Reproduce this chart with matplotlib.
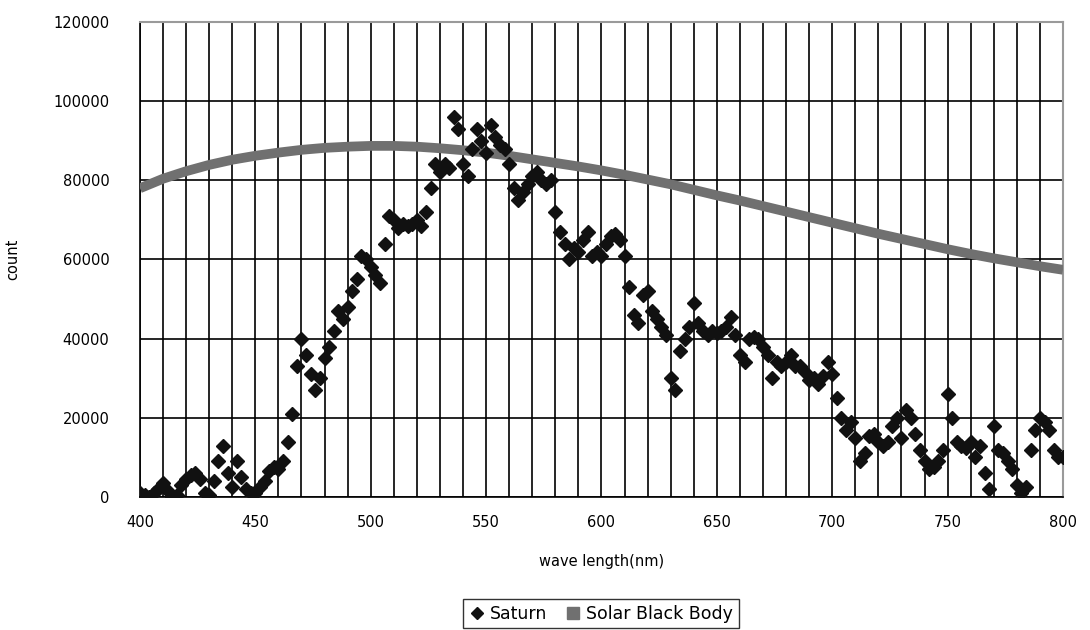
import numpy as np
import matplotlib
matplotlib.use('Agg')
import matplotlib.pyplot as plt
from matplotlib.lines import Line2D

# Saturn spectrum, one value every 2 nm from 400 to 800
saturn_nm = np.arange(400, 801, 2)
saturn_count = [
    1000, 500, 0, 1000, 2000, 3500, 1500, 0, 500, 3000,
    4500, 5500, 6000, 4500, 1000, 500, 4000, 9000, 13000, 6000,
    2500, 9000, 5000, 2000, 1000, 1000, 2500, 4000, 6500, 7500,
    7000, 9000, 14000, 21000, 33000, 40000, 36000, 31000, 27000, 30000,
    35000, 38000, 42000, 47000, 45000, 48000, 52000, 55000, 61000, 60000,
    58000, 56000, 54000, 64000, 71000, 70000, 68000, 69000, 68500, 69000,
    70000, 68500, 72000, 78000, 84000, 82000, 84000, 83000, 96000, 93000,
    84000, 81000, 88000, 93000, 90000, 87000, 94000, 91000, 89000, 88000,
    84000, 78000, 75000, 77000, 79000, 81000, 82000, 80000, 79000, 80000,
    72000, 67000, 64000, 60000, 63000, 62000, 65000, 67000, 61000, 62000,
    61000, 64000, 66000, 66500, 65000, 61000, 53000, 46000, 44000, 51000,
    52000, 47000, 45000, 43000, 41000, 30000, 27000, 37000, 40000, 43000,
    49000, 44000, 42000, 41000, 42000, 41500, 42000, 43000, 45500, 41000,
    36000, 34000, 40000, 40500, 40000, 38000, 36000, 30000, 34000, 33000,
    34000, 36000, 33000, 33000, 31500, 29500, 30000, 28500, 30500, 34000,
    31000, 25000, 20000, 17000, 19000, 15000, 9000, 11000, 15500, 16000,
    14000, 13000, 14000, 18000, 20000, 15000, 22000, 20000, 16000, 12000,
    9000, 7000, 7500, 9000, 12000, 26000, 20000, 14000, 13000, 12500,
    14000, 10000, 13000, 6000, 2000, 18000, 12000, 11000, 9000, 7000,
    3000, 1000, 2500, 12000, 17000, 20000, 19000, 17000, 12000, 10000,
    10000,
]

# solar black body curve, every 10 nm
solar_nm = np.arange(400, 801, 10)
solar_count = [
    78000, 80400, 82300, 83900, 85200, 86200, 87000, 87700, 88200, 88500,
    88700, 88700, 88500, 88100, 87600, 87000, 86200, 85300, 84400, 83500,
    82500, 81400, 80200, 79000, 77600, 76200, 74900, 73500, 72100, 70700,
    69300, 67900, 66500, 65200, 63900, 62600, 61400, 60300, 59300, 58300,
    57400,
]

x_ticks = [400, 450, 500, 550, 600, 650, 700, 750, 800]
y_ticks = [0, 20000, 40000, 60000, 80000, 100000, 120000]

plt.rcParams['font.family'] = ['DejaVu Sans']
fig = plt.figure(figsize=(10.9, 6.3), dpi=100)
ax = fig.add_axes([0.1284, 0.2111, 0.8468, 0.754])

gray = '#707070'
ax.plot(solar_nm, solar_count, color=gray, lw=7, solid_capstyle='butt', zorder=3)
ax.plot(saturn_nm, saturn_count, linestyle='none', marker='D', ms=7.5,
        color='#111111', zorder=4)

ax.set_xlim(400, 800)
ax.set_ylim(0, 120000)
ax.set_xticks(x_ticks)
ax.set_yticks(y_ticks)
ax.set_xticks(np.arange(400, 801, 10), minor=True)
ax.tick_params(which='both', length=0)
ax.tick_params(axis='y', pad=22, labelsize=10.5)
ax.tick_params(axis='x', pad=13, labelsize=10.5)
ax.grid(which='major', color='black', lw=1.2)
ax.grid(which='minor', axis='x', color='black', lw=1.2)
ax.set_axisbelow(True)

for s in ['left', 'bottom']:
    ax.spines[s].set_color('black')
    ax.spines[s].set_linewidth(1.2)
for s in ['top', 'right']:
    ax.spines[s].set_color('#9a9a9a')
    ax.spines[s].set_linewidth(1.5)

ax.set_xlabel('wave length(nm)', fontsize=10.5)
ax.set_ylabel('count', fontsize=10.5)
ax.xaxis.set_label_coords(0.5, -0.12)
ax.yaxis.set_label_coords(-0.13, 0.5)

handles = [
    Line2D([], [], linestyle='none', marker='D', ms=6, color='#111111'),
    Line2D([], [], linestyle='none', marker='s', ms=8, color=gray),
]
leg = fig.legend(handles, ['Saturn', 'Solar Black Body'], loc='center',
                 bbox_to_anchor=(0.5512, 0.026), ncol=2, frameon=True,
                 fancybox=False, fontsize=12.5, handletextpad=0.25,
                 columnspacing=1.0, handlelength=1.0, borderpad=0.3)
leg.get_frame().set_edgecolor('black')
leg.get_frame().set_linewidth(1.0)

fig.savefig('out.png', dpi=100)
